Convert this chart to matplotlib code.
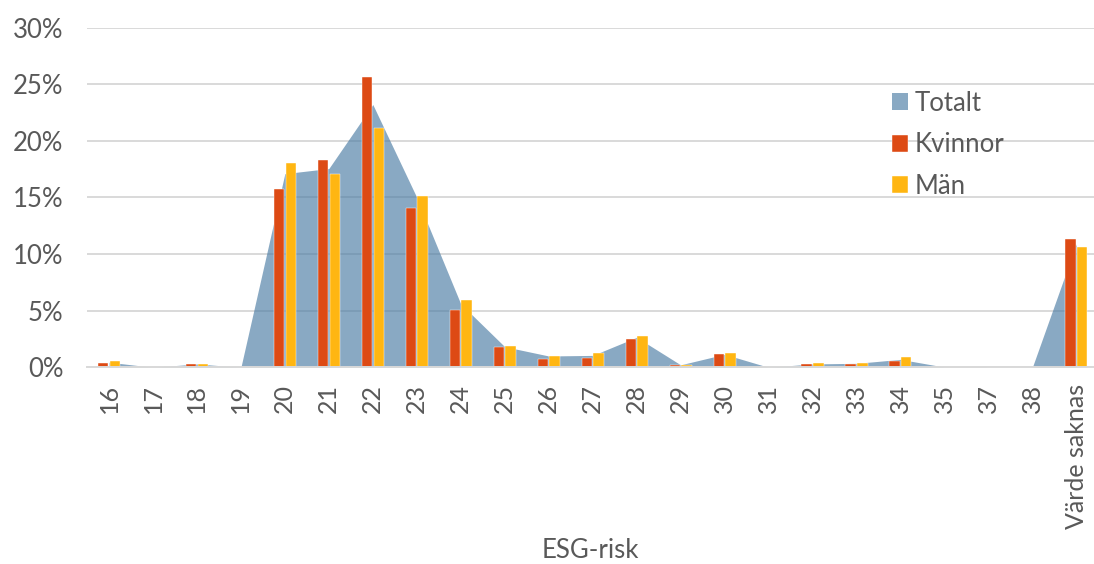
import matplotlib
matplotlib.use("Agg")
import matplotlib.pyplot as plt
import numpy as np

plt.rcParams['font.family'] = ['Lato', 'DejaVu Sans']

categories = ["16", "17", "18", "19", "20", "21", "22", "23", "24", "25", "26",
              "27", "28", "29", "30", "31", "32", "33", "34", "35", "37", "38",
              "Värde saknas"]

# Share of holdings per ESG risk score, in percent
totalt = [0.45, 0.0, 0.3, 0.0, 17.1, 17.55, 23.2, 15.0, 5.6, 1.82, 1.0,
          1.05, 2.65, 0.22, 1.15, 0.0, 0.3, 0.35, 0.7, 0.02, 0.0, 0.0, 10.9]
kvinnor = [0.4, 0.0, 0.29, 0.0, 15.7, 18.3, 25.6, 14.1, 5.06, 1.76, 0.76,
           0.85, 2.5, 0.2, 1.17, 0.0, 0.26, 0.26, 0.58, 0.0, 0.0, 0.0, 11.3]
man = [0.53, 0.0, 0.3, 0.0, 18.0, 17.06, 21.1, 15.1, 5.94, 1.88, 1.02,
       1.23, 2.79, 0.2, 1.29, 0.0, 0.35, 0.41, 0.94, 0.04, 0.0, 0.0, 10.6]

yticks = [0, 5, 10, 15, 20, 25, 30]

TEXT = '#595959'
GRID = '#D9D9D9'
FS = 18.5

W, H = 1094, 564
fig = plt.figure(figsize=(W / 100, H / 100), dpi=100)
left, right = 87.0, 1094.0
bottom, top = 367.3, 27.5
ax = fig.add_axes([left / W, 1 - bottom / H, (right - left) / W, (bottom - top) / H])

x = np.arange(len(categories))
ax.fill_between(x, 0, totalt, color='#4A7BA3', alpha=0.65, lw=0, zorder=1,
                label='Totalt')
bw = 0.235
ax.bar(x - 0.134, kvinnor, width=bw, color='#DD4A14', edgecolor='white',
       linewidth=0.3, zorder=3, label='Kvinnor')
ax.bar(x + 0.134, man, width=bw, color='#FFB612', edgecolor='white',
       linewidth=0.3, zorder=3, label='Män')

spacing = (right - left) / (1098.3 - left)
ax.set_xlim(-0.5, -0.5 + 23 * spacing)
ax.set_ylim(0, 30)
ax.set_yticks(yticks)
ax.set_yticklabels([f"{v}%" for v in yticks])
ax.set_xticks(x)
ax.set_xticklabels(categories, rotation=90)

ax.set_axisbelow(True)
ax.yaxis.grid(True, color=GRID, lw=1.4)
for s in ['top', 'right', 'left']:
    ax.spines[s].set_visible(False)
ax.spines['bottom'].set_color(GRID)
ax.spines['bottom'].set_linewidth(1.4)
ax.spines['bottom'].set_zorder(4)

ax.tick_params(axis='both', length=0, labelcolor=TEXT)
ax.tick_params(axis='y', pad=17, labelsize=FS)
ax.tick_params(axis='x', pad=12, labelsize=18)

fig.text((left + right) / 2 / W, 1 - 550 / H, 'ESG-risk', ha='center',
         va='center', fontsize=FS, color=TEXT)

leg = ax.legend(loc='upper left', bbox_to_anchor=(879 / W, 1 - 78 / H),
                bbox_transform=fig.transFigure, frameon=False, fontsize=FS,
                handlelength=0.62, handleheight=0.62, handletextpad=0.28,
                labelspacing=0.64, borderpad=0)
for t in leg.get_texts():
    t.set_color(TEXT)

fig.savefig('out.png', dpi=100)
